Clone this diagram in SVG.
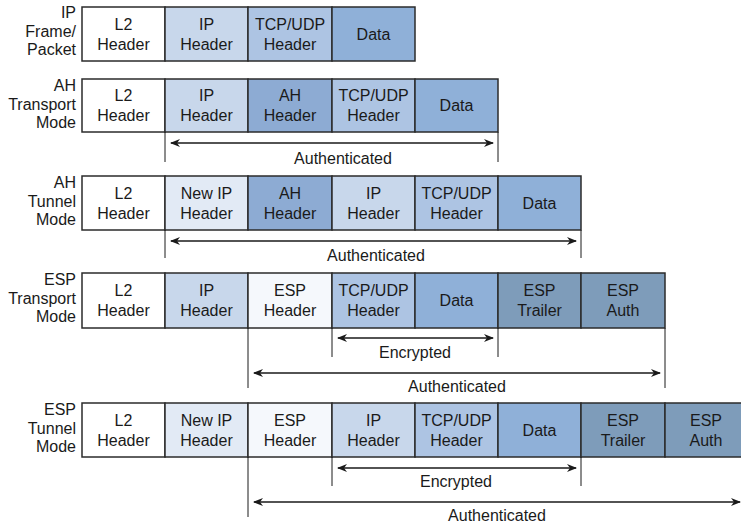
<svg xmlns="http://www.w3.org/2000/svg" width="741" height="524" viewBox="0 0 741 524">
  <defs>
    <style>
      .cell { stroke: #2b2b2b; stroke-width: 1.5; }
      .l2 { fill: #ffffff; }
      .newip { fill: #e2eaf5; }
      .esph { fill: #f5f8fc; }
      .ip { fill: #c8d7eb; }
      .tcp { fill: #adc4e3; }
      .data { fill: #8fb0d8; }
      .ah { fill: #8dabd3; }
      .esptr { fill: #7e9cba; }
      text { font-family: "Liberation Sans", Arial, sans-serif; font-size: 16px; fill: #1a1a1a; }
      .c { text-anchor: middle; }
      .lbl { text-anchor: end; }
      .tick { stroke: #1a1a1a; stroke-width: 1; }
      .arr { stroke: #1a1a1a; stroke-width: 1.6; fill: none; marker-start: url(#ah); marker-end: url(#ah); }
    </style>
    <marker id="ah" viewBox="0 0 10 8" refX="9" refY="4" markerWidth="10" markerHeight="8" markerUnits="userSpaceOnUse" orient="auto-start-reverse">
      <path d="M0,0 L10,4 L0,8 L3,4 Z" fill="#1a1a1a"/>
    </marker>
  </defs>
  <rect width="741" height="524" fill="#ffffff"/>

  <!-- IP frame / packet -->
  <g id="ip-packet">
    <text class="lbl" x="76" y="18">IP</text>
    <text class="lbl" x="76" y="37">Frame/</text>
    <text class="lbl" x="76" y="55">Packet</text>
    <rect class="cell l2" x="82" y="7" width="83" height="54"/>
    <rect class="cell ip" x="165" y="7" width="83" height="54"/>
    <rect class="cell tcp" x="248" y="7" width="84" height="54"/>
    <rect class="cell data" x="332" y="7" width="83" height="54"/>
    <text class="c" x="123.5" y="30">L2</text><text class="c" x="123.5" y="50">Header</text>
    <text class="c" x="206.5" y="30">IP</text><text class="c" x="206.5" y="50">Header</text>
    <text class="c" x="290" y="30">TCP/UDP</text><text class="c" x="290" y="50">Header</text>
    <text class="c" x="373.5" y="40">Data</text>
  </g>

  <!-- AH transport mode -->
  <g id="ah-transport">
    <text class="lbl" x="76" y="91">AH</text>
    <text class="lbl" x="76" y="110">Transport</text>
    <text class="lbl" x="76" y="128">Mode</text>
    <rect class="cell l2" x="82" y="79" width="83" height="53"/>
    <rect class="cell ip" x="165" y="79" width="83" height="53"/>
    <rect class="cell ah" x="248" y="79" width="84" height="53"/>
    <rect class="cell tcp" x="332" y="79" width="83" height="53"/>
    <rect class="cell data" x="415" y="79" width="83" height="53"/>
    <text class="c" x="123.5" y="101">L2</text><text class="c" x="123.5" y="121">Header</text>
    <text class="c" x="206.5" y="101">IP</text><text class="c" x="206.5" y="121">Header</text>
    <text class="c" x="290" y="101">AH</text><text class="c" x="290" y="121">Header</text>
    <text class="c" x="373.5" y="101">TCP/UDP</text><text class="c" x="373.5" y="121">Header</text>
    <text class="c" x="456.5" y="111">Data</text>
  </g>

  <!-- AH tunnel mode -->
  <g id="ah-tunnel">
    <text class="lbl" x="76" y="188">AH</text>
    <text class="lbl" x="76" y="207">Tunnel</text>
    <text class="lbl" x="76" y="225">Mode</text>
    <rect class="cell l2" x="82" y="176" width="83" height="54"/>
    <rect class="cell newip" x="165" y="176" width="83" height="54"/>
    <rect class="cell ah" x="248" y="176" width="84" height="54"/>
    <rect class="cell ip" x="332" y="176" width="83" height="54"/>
    <rect class="cell tcp" x="415" y="176" width="83" height="54"/>
    <rect class="cell data" x="498" y="176" width="83" height="54"/>
    <text class="c" x="123.5" y="199">L2</text><text class="c" x="123.5" y="219">Header</text>
    <text class="c" x="206.5" y="199">New IP</text><text class="c" x="206.5" y="219">Header</text>
    <text class="c" x="290" y="199">AH</text><text class="c" x="290" y="219">Header</text>
    <text class="c" x="373.5" y="199">IP</text><text class="c" x="373.5" y="219">Header</text>
    <text class="c" x="456.5" y="199">TCP/UDP</text><text class="c" x="456.5" y="219">Header</text>
    <text class="c" x="539.5" y="209">Data</text>
  </g>

  <!-- ESP transport mode -->
  <g id="esp-transport">
    <text class="lbl" x="76" y="285">ESP</text>
    <text class="lbl" x="76" y="304">Transport</text>
    <text class="lbl" x="76" y="322">Mode</text>
    <rect class="cell l2" x="82" y="273" width="83" height="55"/>
    <rect class="cell ip" x="165" y="273" width="83" height="55"/>
    <rect class="cell esph" x="248" y="273" width="84" height="55"/>
    <rect class="cell tcp" x="332" y="273" width="83" height="55"/>
    <rect class="cell data" x="415" y="273" width="83" height="55"/>
    <rect class="cell esptr" x="498" y="273" width="83" height="55"/>
    <rect class="cell esptr" x="581" y="273" width="84" height="55"/>
    <text class="c" x="123.5" y="296">L2</text><text class="c" x="123.5" y="316">Header</text>
    <text class="c" x="206.5" y="296">IP</text><text class="c" x="206.5" y="316">Header</text>
    <text class="c" x="290" y="296">ESP</text><text class="c" x="290" y="316">Header</text>
    <text class="c" x="373.5" y="296">TCP/UDP</text><text class="c" x="373.5" y="316">Header</text>
    <text class="c" x="456.5" y="306">Data</text>
    <text class="c" x="539.5" y="296">ESP</text><text class="c" x="539.5" y="316">Trailer</text>
    <text class="c" x="623" y="296">ESP</text><text class="c" x="623" y="316">Auth</text>
  </g>

  <!-- ESP tunnel mode -->
  <g id="esp-tunnel">
    <text class="lbl" x="76" y="415">ESP</text>
    <text class="lbl" x="76" y="434">Tunnel</text>
    <text class="lbl" x="76" y="452">Mode</text>
    <rect class="cell l2" x="82" y="403" width="83" height="54"/>
    <rect class="cell newip" x="165" y="403" width="83" height="54"/>
    <rect class="cell esph" x="248" y="403" width="84" height="54"/>
    <rect class="cell ip" x="332" y="403" width="83" height="54"/>
    <rect class="cell tcp" x="415" y="403" width="83" height="54"/>
    <rect class="cell data" x="498" y="403" width="83" height="54"/>
    <rect class="cell esptr" x="581" y="403" width="84" height="54"/>
    <rect class="cell esptr" x="665" y="403" width="83" height="54"/>
    <text class="c" x="123.5" y="426">L2</text><text class="c" x="123.5" y="446">Header</text>
    <text class="c" x="206.5" y="426">New IP</text><text class="c" x="206.5" y="446">Header</text>
    <text class="c" x="290" y="426">ESP</text><text class="c" x="290" y="446">Header</text>
    <text class="c" x="373.5" y="426">IP</text><text class="c" x="373.5" y="446">Header</text>
    <text class="c" x="456.5" y="426">TCP/UDP</text><text class="c" x="456.5" y="446">Header</text>
    <text class="c" x="539.5" y="436">Data</text>
    <text class="c" x="623" y="426">ESP</text><text class="c" x="623" y="446">Trailer</text>
    <text class="c" x="706" y="426">ESP</text><text class="c" x="706" y="446">Auth</text>
  </g>

  <!-- coverage spans: extent ticks, double arrows and captions -->
  <g id="connectors">
    <line class="tick" x1="165" y1="132" x2="165" y2="162"/>
    <line class="tick" x1="498" y1="132" x2="498" y2="162"/>
    <line class="arr" x1="171" y1="143" x2="493" y2="143"/>
    <text class="c" x="343" y="164">Authenticated</text>

    <line class="tick" x1="165" y1="230" x2="165" y2="258"/>
    <line class="tick" x1="581" y1="230" x2="581" y2="258"/>
    <line class="arr" x1="171" y1="241" x2="576" y2="241"/>
    <text class="c" x="376" y="261">Authenticated</text>

    <line class="tick" x1="332" y1="328" x2="332" y2="357"/>
    <line class="tick" x1="498" y1="328" x2="498" y2="357"/>
    <line class="arr" x1="338" y1="338" x2="493" y2="338"/>
    <text class="c" x="415" y="358">Encrypted</text>
    <line class="tick" x1="248" y1="328" x2="248" y2="388"/>
    <line class="tick" x1="665" y1="328" x2="665" y2="388"/>
    <line class="arr" x1="254" y1="373" x2="660" y2="373"/>
    <text class="c" x="457" y="392">Authenticated</text>

    <line class="tick" x1="332" y1="457" x2="332" y2="486"/>
    <line class="tick" x1="581" y1="457" x2="581" y2="486"/>
    <line class="arr" x1="338" y1="468" x2="576" y2="468"/>
    <text class="c" x="456" y="487">Encrypted</text>
    <line class="tick" x1="248" y1="457" x2="248" y2="517"/>
    <line class="arr" x1="254" y1="502" x2="740" y2="502"/>
    <text class="c" x="497" y="521">Authenticated</text>
  </g>
</svg>
